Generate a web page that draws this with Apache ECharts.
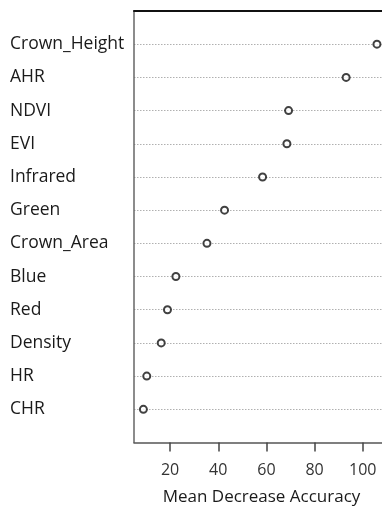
<!DOCTYPE html>
<html>
<head>
<meta charset="utf-8">
<script src="https://cdn.jsdelivr.net/npm/echarts@6/dist/echarts.min.js"></script>
<style>
  html, body { margin: 0; padding: 0; background: #fff; }
  #chart { width: 382px; height: 507px; }
</style>
</head>
<body>
<div id="chart"></div>
<script>
// Variable importance, listed from top row to bottom row
const variables = ['Crown_Height', 'AHR', 'NDVI', 'EVI', 'Infrared', 'Green',
                   'Crown_Area', 'Blue', 'Red', 'Density', 'HR', 'CHR'];
const meanDecreaseAccuracy = [105.9, 93.1, 69.2, 68.5, 58.4, 42.6,
                              35.3, 22.4, 18.9, 16.3, 10.3, 8.9];
const xTicks = [20, 40, 60, 80, 100];
const xTitle = 'Mean Decrease Accuracy';

// Empty slots above and below keep half a row of space inside the frame
const rows = [''].concat(variables, ['']);

const font = 'Open Sans';
const chart = echarts.init(document.getElementById('chart'));

const xRange = { min: 5, max: 108 };

chart.setOption({
  backgroundColor: '#fff',
  animation: false,
  grid: { left: 134, right: 0, top: 11, bottom: 64.5, outerBoundsMode: 'none' },
  xAxis: [
    {
      type: 'value',
      position: 'bottom',
      min: xRange.min,
      max: xRange.max,
      axisLine: { show: true, lineStyle: { color: '#555', width: 1.5 } },
      axisTick: { show: true, customValues: xTicks, length: 9, lineStyle: { color: '#444', width: 1.5 } },
      axisLabel: { customValues: xTicks, margin: 20, fontFamily: font, fontSize: 16, color: '#333' },
      splitLine: { show: false },
      name: xTitle,
      nameLocation: 'middle',
      nameGap: 46,
      nameTextStyle: { fontFamily: font, fontSize: 17, color: '#1a1a1a', padding: [0, 0, 0, 7] }
    },
    {
      type: 'value',
      position: 'top',
      min: xRange.min,
      max: xRange.max,
      axisLine: { show: true, lineStyle: { color: '#111', width: 2 } },
      axisTick: { show: false },
      axisLabel: { show: false },
      splitLine: { show: false }
    }
  ],
  yAxis: {
    type: 'category',
    data: rows,
    inverse: true,
    boundaryGap: false,
    axisLine: { show: true, lineStyle: { color: '#666', width: 1.5 } },
    axisTick: { show: false },
    axisLabel: {
      interval: 0,
      align: 'left',
      margin: 124,
      fontFamily: font,
      fontSize: 17.5,
      color: '#1a1a1a'
    },
    splitLine: {
      show: true,
      interval: (index, value) => value !== '',
      lineStyle: { color: '#b0b0b0', type: [1.5, 1.5], width: 1 }
    }
  },
  series: [{
    type: 'scatter',
    xAxisIndex: 0,
    symbol: 'emptyCircle',
    symbolSize: 7,
    itemStyle: { color: '#111', borderWidth: 1.2 },
    data: variables.map((v, i) => [meanDecreaseAccuracy[i], v])
  }]
});
</script>
</body>
</html>
